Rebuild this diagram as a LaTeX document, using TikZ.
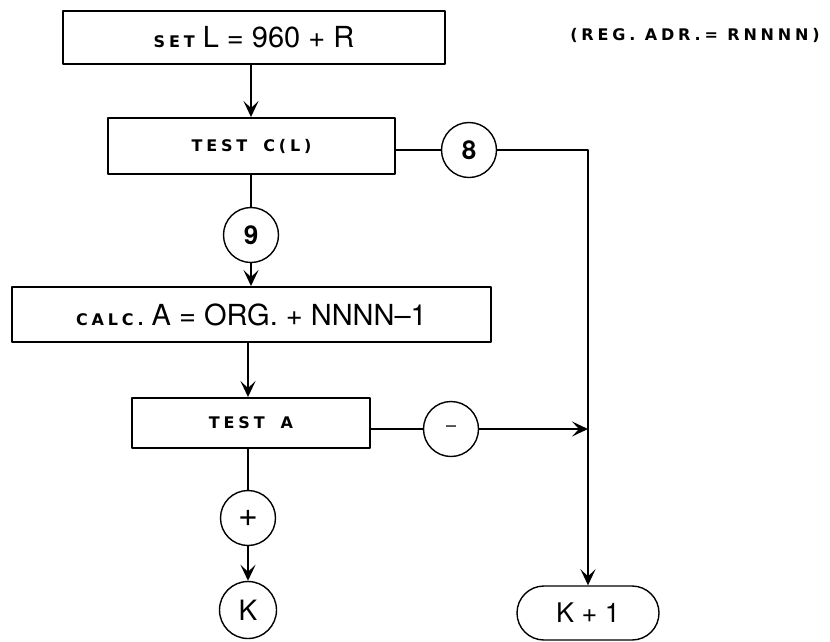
\documentclass[tikz,border=0pt]{standalone}
\usepackage{fontspec}
\setmainfont{TeX Gyre Heros}
\newfontfamily\gothfont[LetterSpace=24]{DejaVu Sans}
\usetikzlibrary{arrows.meta, positioning, calc, shapes}

\begin{document}
\begin{tikzpicture}[x=1pt, y=-1pt, >={Stealth[length=16pt, width=15pt, inset=7pt]}, line cap=round, line join=round]
	\tikzset{
		stepbox/.style={draw, line width=1.9pt, inner sep=0pt, font=\fontsize{29}{29}\selectfont},
		conn/.style={draw, circle, line width=1.4pt, minimum size=55pt, inner sep=0pt, font=\bfseries\fontsize{26}{26}\selectfont},
		endbox/.style={draw, rounded rectangle, line width=1.4pt, minimum width=142pt, minimum height=54pt, inner sep=0pt, font=\fontsize{27}{27}\selectfont},
		flow/.style={line width=2.3pt},
		note/.style={font=\gothfont\bfseries\fontsize{16}{16}\selectfont}
	}
	
	\newcommand{\sgoth}[1]{{\gothfont\bfseries\fontsize{16}{16}\selectfont #1}}
	
	\useasboundingbox (0,0) rectangle (830,641);
	
	% main column
	\node[stepbox, minimum width=382pt, minimum height=53pt] (setl) at (254,37.5) {\sgoth{SET} L = 960 + R};
	\node[stepbox, minimum width=287pt, minimum height=56pt] (testc) at (251.5,146) {\sgoth{TEST\quad C(L)}};
	\node[conn] (c9) at (251,235) {9};
	\node[stepbox, minimum width=479pt, minimum height=55pt] (calc) at (251.5,314.5) {\sgoth{CALC.} A = ORG. + NNNN\textendash 1};
	\node[stepbox, minimum width=238pt, minimum height=50pt] (testa) at (251,423) {\sgoth{TEST\quad A}};
	\node[conn, font=\fontsize{34}{34}\selectfont] (cplus) at (248,518) {+};
	\node[conn, minimum size=57pt, font=\fontsize{28}{28}\selectfont] (k) at (248,610) {K};
	
	% right branch
	\node[conn] (c8) at (469,150) {8};
	\node[conn, font=\fontsize{18}{18}\selectfont] (cminus) at (451,429) {\textendash};
	\node[endbox] (kone) at (588,613) {K + 1};
	
	\node[note] (reg) at (695,35) {(REG. ADR.= RNNNN)};
	
	\draw[flow,->] (c9 |- setl.south) -- (c9 |- testc.north);
	\draw[flow] (c9 |- testc.south) -- (c9);
	\draw[flow,->] (c9) -- (c9 |- calc.north);
	\draw[flow,->] (cplus |- calc.south) -- (cplus |- testa.north);
	\draw[flow] (cplus |- testa.south) -- (cplus);
	\draw[flow,->] (cplus) -- (k);
	
	\draw[flow] (testc.east |- c8) -- (c8);
	\draw[flow,->] (c8) -| (kone);
	\draw[flow] (testa.east |- cminus) -- (cminus);
	\draw[flow,->] (cminus) -- (cminus -| kone);
	
\end{tikzpicture}
\end{document}
